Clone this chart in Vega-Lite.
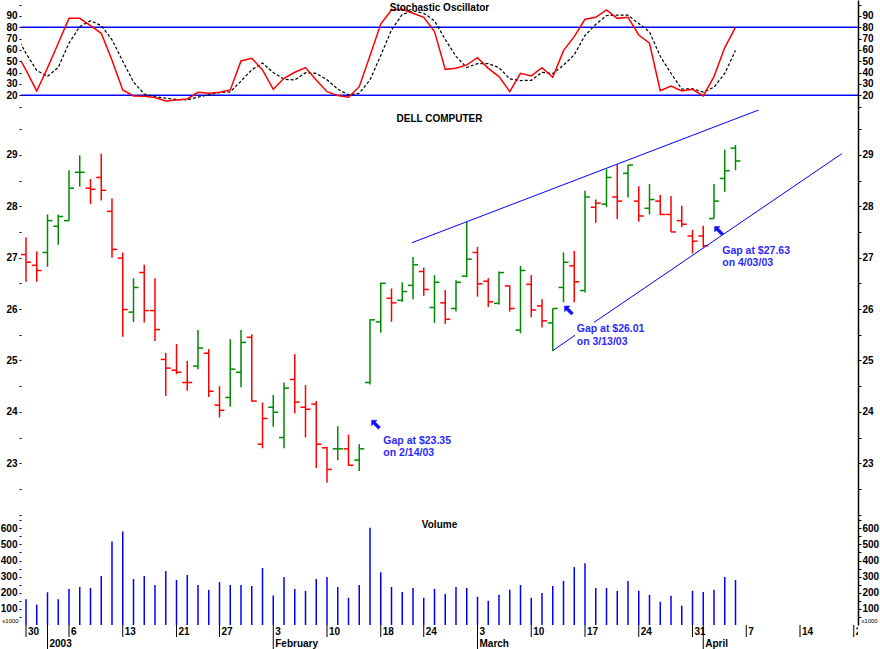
{
  "$schema": "https://vega.github.io/schema/vega-lite/v6.json",
  "background": "white",
  "padding": 0,
  "bounds": "flush",
  "spacing": 0,
  "config": {
    "font": "Liberation Sans",
    "view": {"stroke": null},
    "axis": {"labelFont": "Liberation Sans", "labelFontWeight": "bold", "labelFontSize": 10, "labelColor": "#000", "tickColor": "#000", "domainColor": "#000", "titleFont": "Liberation Sans", "titleColor": "#000"},
    "title": {"font": "Liberation Sans", "fontSize": 10, "fontWeight": "bold", "color": "#000", "anchor": "middle", "frame": "group"}
  },
  "datasets": {
    "ohlc": [
      {"i":0,"o":27.06,"h":27.39,"l":26.53,"c":26.91,"d":"down"},
      {"i":1,"o":26.85,"h":27.12,"l":26.53,"c":26.75,"d":"down"},
      {"i":2,"o":27.10,"h":27.84,"l":26.82,"c":27.72,"d":"up"},
      {"i":3,"o":27.61,"h":27.84,"l":27.25,"c":27.80,"d":"up"},
      {"i":4,"o":27.72,"h":28.70,"l":27.72,"c":28.35,"d":"up"},
      {"i":5,"o":28.66,"h":28.99,"l":28.38,"c":28.66,"d":"up"},
      {"i":6,"o":28.35,"h":28.53,"l":28.04,"c":28.33,"d":"down"},
      {"i":7,"o":28.56,"h":29.02,"l":28.11,"c":28.31,"d":"down"},
      {"i":8,"o":27.90,"h":28.15,"l":27.00,"c":27.16,"d":"down"},
      {"i":9,"o":26.99,"h":27.10,"l":25.46,"c":25.99,"d":"down"},
      {"i":10,"o":25.94,"h":26.60,"l":25.75,"c":26.42,"d":"up"},
      {"i":11,"o":26.71,"h":26.86,"l":25.74,"c":25.97,"d":"down"},
      {"i":12,"o":25.97,"h":26.60,"l":25.38,"c":25.60,"d":"down"},
      {"i":13,"o":25.02,"h":25.15,"l":24.31,"c":24.85,"d":"down"},
      {"i":14,"o":24.81,"h":25.32,"l":24.73,"c":24.77,"d":"down"},
      {"i":15,"o":24.57,"h":24.99,"l":24.41,"c":24.57,"d":"down"},
      {"i":16,"o":24.89,"h":25.59,"l":24.83,"c":25.24,"d":"up"},
      {"i":17,"o":25.14,"h":25.22,"l":24.29,"c":24.40,"d":"down"},
      {"i":18,"o":24.13,"h":24.50,"l":23.89,"c":24.03,"d":"down"},
      {"i":19,"o":24.28,"h":25.41,"l":24.10,"c":24.83,"d":"up"},
      {"i":20,"o":24.77,"h":25.59,"l":24.48,"c":25.35,"d":"up"},
      {"i":21,"o":25.45,"h":25.51,"l":24.20,"c":24.21,"d":"down"},
      {"i":22,"o":23.37,"h":24.18,"l":23.29,"c":23.87,"d":"down"},
      {"i":23,"o":24.09,"h":24.33,"l":23.71,"c":23.99,"d":"up"},
      {"i":24,"o":23.50,"h":24.57,"l":23.29,"c":24.46,"d":"up"},
      {"i":25,"o":24.63,"h":25.12,"l":23.97,"c":24.19,"d":"down"},
      {"i":26,"o":24.09,"h":24.52,"l":23.50,"c":24.05,"d":"down"},
      {"i":27,"o":24.15,"h":24.21,"l":22.91,"c":23.37,"d":"down"},
      {"i":28,"o":23.30,"h":23.32,"l":22.62,"c":22.88,"d":"down"},
      {"i":29,"o":23.28,"h":23.72,"l":23.06,"c":23.28,"d":"up"},
      {"i":30,"o":23.28,"h":23.56,"l":22.95,"c":22.96,"d":"down"},
      {"i":31,"o":23.06,"h":23.37,"l":22.85,"c":23.28,"d":"up"},
      {"i":32,"o":24.57,"h":25.80,"l":24.53,"c":25.79,"d":"up"},
      {"i":33,"o":25.75,"h":26.51,"l":25.54,"c":26.50,"d":"up"},
      {"i":34,"o":26.21,"h":26.40,"l":25.75,"c":26.12,"d":"down"},
      {"i":35,"o":26.17,"h":26.52,"l":26.14,"c":26.34,"d":"up"},
      {"i":36,"o":26.46,"h":27.01,"l":26.19,"c":26.86,"d":"up"},
      {"i":37,"o":26.73,"h":26.81,"l":26.26,"c":26.38,"d":"down"},
      {"i":38,"o":26.03,"h":26.66,"l":25.73,"c":26.52,"d":"up"},
      {"i":39,"o":26.12,"h":26.37,"l":25.71,"c":25.80,"d":"down"},
      {"i":40,"o":26.01,"h":26.56,"l":25.95,"c":26.52,"d":"up"},
      {"i":41,"o":26.64,"h":27.70,"l":26.62,"c":26.97,"d":"up"},
      {"i":42,"o":27.10,"h":27.21,"l":26.24,"c":26.49,"d":"down"},
      {"i":43,"o":26.54,"h":26.60,"l":26.04,"c":26.14,"d":"down"},
      {"i":44,"o":26.11,"h":26.73,"l":26.09,"c":26.71,"d":"up"},
      {"i":45,"o":26.45,"h":26.46,"l":25.95,"c":26.01,"d":"down"},
      {"i":46,"o":25.59,"h":26.84,"l":25.53,"c":26.75,"d":"up"},
      {"i":47,"o":26.48,"h":26.66,"l":25.84,"c":25.98,"d":"down"},
      {"i":48,"o":26.06,"h":26.19,"l":25.64,"c":25.77,"d":"down"},
      {"i":49,"o":25.73,"h":26.01,"l":25.19,"c":26.01,"d":"up"},
      {"i":50,"o":26.42,"h":27.10,"l":26.13,"c":26.91,"d":"up"},
      {"i":51,"o":26.84,"h":27.13,"l":26.13,"c":26.53,"d":"down"},
      {"i":52,"o":26.36,"h":28.30,"l":26.32,"c":28.18,"d":"up"},
      {"i":53,"o":27.98,"h":28.13,"l":27.68,"c":28.06,"d":"down"},
      {"i":54,"o":28.04,"h":28.72,"l":27.98,"c":28.56,"d":"up"},
      {"i":55,"o":28.18,"h":28.82,"l":27.75,"c":28.10,"d":"down"},
      {"i":56,"o":28.64,"h":28.80,"l":28.17,"c":28.80,"d":"up"},
      {"i":57,"o":28.10,"h":28.39,"l":27.70,"c":27.81,"d":"down"},
      {"i":58,"o":27.96,"h":28.43,"l":27.84,"c":28.13,"d":"up"},
      {"i":59,"o":28.10,"h":28.22,"l":27.83,"c":27.84,"d":"down"},
      {"i":60,"o":27.84,"h":28.20,"l":27.50,"c":27.50,"d":"down"},
      {"i":61,"o":27.72,"h":28.01,"l":27.59,"c":27.65,"d":"down"},
      {"i":62,"o":27.42,"h":27.54,"l":27.08,"c":27.32,"d":"down"},
      {"i":63,"o":27.42,"h":27.62,"l":27.20,"c":27.23,"d":"down"},
      {"i":64,"o":27.76,"h":28.43,"l":27.76,"c":28.10,"d":"up"},
      {"i":65,"o":28.54,"h":29.10,"l":28.28,"c":28.69,"d":"up"},
      {"i":66,"o":29.13,"h":29.19,"l":28.70,"c":28.88,"d":"up"}
    ],
    "stoch": [
      {"i":-1,"k":59.6,"dd":74.5},{"i":0,"k":42.2,"dd":57.0},{"i":1,"k":23.8,"dd":41.9},{"i":2,"k":44.2,"dd":36.7},
      {"i":3,"k":65.9,"dd":44.6},{"i":4,"k":87.9,"dd":66.0},{"i":5,"k":87.9,"dd":80.6},{"i":6,"k":81.5,"dd":85.8},
      {"i":7,"k":74.7,"dd":81.4},{"i":8,"k":50.9,"dd":69.0},{"i":9,"k":24.7,"dd":50.1},{"i":10,"k":19.4,"dd":31.7},
      {"i":11,"k":19.1,"dd":21.1},{"i":12,"k":18.0,"dd":18.8},{"i":13,"k":15.0,"dd":17.4},{"i":14,"k":15.9,"dd":16.3},
      {"i":15,"k":16.8,"dd":15.9},{"i":16,"k":22.6,"dd":18.4},{"i":17,"k":21.8,"dd":20.4},{"i":18,"k":22.6,"dd":22.3},
      {"i":19,"k":24.7,"dd":23.0},{"i":20,"k":50.3,"dd":32.5},{"i":21,"k":52.6,"dd":42.5},{"i":22,"k":42.4,"dd":48.4},
      {"i":23,"k":25.3,"dd":40.1},{"i":24,"k":35.0,"dd":34.2},{"i":25,"k":40.3,"dd":33.5},{"i":26,"k":44.4,"dd":39.9},
      {"i":27,"k":33.4,"dd":39.4},{"i":28,"k":23.2,"dd":33.7},{"i":29,"k":19.7,"dd":25.4},{"i":30,"k":18.2,"dd":20.4},
      {"i":31,"k":27.6,"dd":21.8},{"i":32,"k":54.9,"dd":33.6},{"i":33,"k":82.9,"dd":55.1},{"i":34,"k":95.3,"dd":77.7},
      {"i":35,"k":95.9,"dd":91.4},{"i":36,"k":92.4,"dd":94.5},{"i":37,"k":88.8,"dd":92.4},{"i":38,"k":76.2,"dd":85.8},
      {"i":39,"k":42.9,"dd":69.3},{"i":40,"k":43.8,"dd":54.3},{"i":41,"k":46.8,"dd":44.5},{"i":42,"k":53.2,"dd":47.9},
      {"i":43,"k":43.8,"dd":47.9},{"i":44,"k":36.5,"dd":44.5},{"i":45,"k":23.2,"dd":34.5},{"i":46,"k":39.4,"dd":33.0},
      {"i":47,"k":37.1,"dd":33.2},{"i":48,"k":44.4,"dd":40.3},{"i":49,"k":35.9,"dd":39.1},{"i":50,"k":59.4,"dd":46.6},
      {"i":51,"k":71.8,"dd":55.7},{"i":52,"k":87.1,"dd":72.8},{"i":53,"k":88.8,"dd":82.6},{"i":54,"k":95.3,"dd":90.4},
      {"i":55,"k":87.9,"dd":90.7},{"i":56,"k":88.8,"dd":90.7},{"i":57,"k":73.2,"dd":83.3},{"i":58,"k":65.9,"dd":76.0},
      {"i":59,"k":24.1,"dd":54.4},{"i":60,"k":28.2,"dd":39.4},{"i":61,"k":23.8,"dd":25.4},{"i":62,"k":25.3,"dd":25.8},
      {"i":63,"k":19.4,"dd":22.8},{"i":64,"k":36.5,"dd":27.1},{"i":65,"k":62.1,"dd":39.3},{"i":66,"k":80.0,"dd":59.5}
    ],
    "vol": [
      {"i":0,"v":160},{"i":1,"v":126},{"i":2,"v":203},{"i":3,"v":160},{"i":4,"v":224},{"i":5,"v":236},{"i":6,"v":230},
      {"i":7,"v":304},{"i":8,"v":518},{"i":9,"v":580},{"i":10,"v":285},{"i":11,"v":304},{"i":12,"v":248},{"i":13,"v":334},
      {"i":14,"v":279},{"i":15,"v":310},{"i":16,"v":248},{"i":17,"v":218},{"i":18,"v":266},{"i":19,"v":248},{"i":20,"v":248},
      {"i":21,"v":242},{"i":22,"v":353},{"i":23,"v":183},{"i":24,"v":298},{"i":25,"v":224},{"i":26,"v":212},{"i":27,"v":285},
      {"i":28,"v":298},{"i":29,"v":236},{"i":30,"v":169},{"i":31,"v":248},{"i":32,"v":604},{"i":33,"v":327},{"i":34,"v":236},
      {"i":35,"v":205},{"i":36,"v":230},{"i":37,"v":169},{"i":38,"v":224},{"i":39,"v":193},{"i":40,"v":236},{"i":41,"v":230},
      {"i":42,"v":175},{"i":43,"v":150},{"i":44,"v":187},{"i":45,"v":218},{"i":46,"v":248},{"i":47,"v":169},{"i":48,"v":199},
      {"i":49,"v":242},{"i":50,"v":273},{"i":51,"v":359},{"i":52,"v":383},{"i":53,"v":230},{"i":54,"v":230},{"i":55,"v":212},
      {"i":56,"v":273},{"i":57,"v":212},{"i":58,"v":187},{"i":59,"v":144},{"i":60,"v":181},{"i":61,"v":120},{"i":62,"v":212},
      {"i":63,"v":205},{"i":64,"v":218},{"i":65,"v":298},{"i":66,"v":279}
    ],
    "trend": [
      {"seg":"u","i":35.9,"p":27.29},{"seg":"u","i":68.5,"p":29.90},
      {"seg":"l1","i":49,"p":25.19},{"seg":"l1","i":51.07,"p":25.49},
      {"seg":"l2","i":52.84,"p":25.74},{"seg":"l2","i":75.88,"p":29.02}
    ],
    "arrows": [
      {"i":32.56,"p":23.75},{"i":50.51,"p":25.97},{"i":64.47,"p":27.52}
    ],
    "notes": [
      {"i":33.24,"p":23.44,"t":"Gap at $23.35"},{"i":33.24,"p":23.20,"t":"on 2/14/03"},
      {"i":51.23,"p":25.62,"t":"Gap at $26.01"},{"i":51.23,"p":25.36,"t":"on 3/13/03"},
      {"i":64.77,"p":27.13,"t":"Gap at $27.63"},{"i":64.77,"p":26.90,"t":"on 4/03/03"}
    ],
    "levels": [{"lvl":20},{"lvl":80}],
    "weeks": [
      {"i":0,"t":"30"},{"i":2,"t":""},{"i":4,"t":"6"},{"i":9,"t":"13"},{"i":14,"t":"21"},{"i":18,"t":"27"},
      {"i":23,"t":"3"},{"i":28,"t":"10"},{"i":33,"t":"18"},{"i":37,"t":"24"},{"i":42,"t":"3"},{"i":47,"t":"10"},
      {"i":52,"t":"17"},{"i":57,"t":"24"},{"i":62,"t":"31"},{"i":63,"t":""},{"i":67,"t":"7"},{"i":72,"t":"14"},{"i":77,"t":"21"}
    ],
    "months": [
      {"i":2,"t":"2003"},{"i":23,"t":"February"},{"i":42,"t":"March"},{"i":63,"t":"April"}
    ]
  },
  "vconcat": [
    {
      "width": 837,
      "height": 110,
      "title": {"text": "Stochastic Oscillator", "offset": -13},
      "resolve": {"axis": {"y": "independent"}},
      "layer": [
        {
          "data": {"name": "levels"},
          "mark": {"type": "rule", "color": "#0000ff", "strokeWidth": 1.5},
          "encoding": {
            "y": {"field": "lvl", "type": "quantitative", "scale": {"domain": [7, 104.1], "nice": false, "zero": false}, "axis": null}
          }
        },
        {
          "data": {"name": "stoch"},
          "mark": {"type": "line", "color": "#000000", "strokeDash": [3, 2], "strokeWidth": 1.2, "clip": true},
          "encoding": {
            "x": {"field": "i", "type": "quantitative", "scale": {"domain": [-0.465, 77.395], "nice": false, "zero": false},
                  "axis": {"orient": "bottom", "values": [0,4,9,14,18,23,28,33,37,42,47,52,57,62,67,72,77], "grid": true, "gridColor": "#b8b8b8", "gridDash": [3,3], "labels": false, "ticks": false, "domain": true, "domainWidth": 1.5, "title": null}},
            "y": {"field": "dd", "type": "quantitative", "scale": {"domain": [7, 104.1], "nice": false, "zero": false},
                  "axis": {"orient": "right", "values": [10,20,30,40,50,60,70,80,90,100], "labelExpr": "datum.value >= 20 && datum.value <= 90 ? datum.label : ''", "tickSize": 3, "labelPadding": 1, "domain": true, "domainWidth": 1.5, "grid": false, "title": null}}
          }
        },
        {
          "data": {"name": "stoch"},
          "mark": {"type": "line", "color": "#ff0000", "strokeWidth": 1.5, "clip": true},
          "encoding": {
            "x": {"field": "i", "type": "quantitative", "scale": {"domain": [-0.465, 77.395], "nice": false, "zero": false}, "axis": null},
            "y": {"field": "k", "type": "quantitative", "scale": {"domain": [7, 104.1], "nice": false, "zero": false},
                  "axis": {"orient": "left", "values": [10,20,30,40,50,60,70,80,90,100], "labelExpr": "datum.value >= 20 && datum.value <= 90 ? datum.label : ''", "tickSize": 2, "labelPadding": 2, "domain": false, "grid": false, "title": null}}
          }
        }
      ]
    },
    {
      "width": 837,
      "height": 407,
      "title": {"text": "DELL COMPUTER", "offset": -14},
      "resolve": {"axis": {"y": "independent"}},
      "layer": [
        {
          "data": {"name": "ohlc"},
          "mark": {"type": "rule", "strokeWidth": 1.5},
          "encoding": {
            "x": {"field": "i", "type": "quantitative", "scale": {"domain": [-0.465, 77.395], "nice": false, "zero": false},
                  "axis": {"orient": "bottom", "values": [0,4,9,14,18,23,28,33,37,42,47,52,57,62,67,72,77], "grid": true, "gridColor": "#b8b8b8", "gridDash": [3,3], "labels": false, "ticks": false, "domain": true, "domainWidth": 1.5, "title": null}},
            "y": {"field": "l", "type": "quantitative", "scale": {"domain": [21.954, 29.872], "nice": false, "zero": false},
                  "axis": {"orient": "left", "values": [22,22.5,23,23.5,24,24.5,25,25.5,26,26.5,27,27.5,28,28.5,29,29.5], "labelExpr": "datum.value % 1 == 0 && datum.value >= 23 ? format(datum.value, 'd') : ''", "tickSize": 2, "labelPadding": 2, "domain": false, "grid": false, "title": null}},
            "y2": {"field": "h"},
            "color": {"field": "d", "type": "nominal", "scale": {"domain": ["up", "down"], "range": ["#008a00", "#ff0000"]}, "legend": null}
          }
        },
        {
          "data": {"name": "ohlc"},
          "mark": {"type": "tick", "orient": "horizontal", "size": 5, "thickness": 1.5, "xOffset": -2.5, "opacity": 1},
          "encoding": {
            "x": {"field": "i", "type": "quantitative", "scale": {"domain": [-0.465, 77.395], "nice": false, "zero": false}, "axis": null},
            "y": {"field": "o", "type": "quantitative", "scale": {"domain": [21.954, 29.872], "nice": false, "zero": false},
                  "axis": {"orient": "right", "values": [22,22.5,23,23.5,24,24.5,25,25.5,26,26.5,27,27.5,28,28.5,29,29.5], "labelExpr": "datum.value % 1 == 0 && datum.value >= 23 ? format(datum.value, 'd') : ''", "tickSize": 3, "labelPadding": 1, "domain": true, "domainWidth": 1.5, "grid": false, "title": null}},
            "color": {"field": "d", "type": "nominal", "scale": {"domain": ["up", "down"], "range": ["#008a00", "#ff0000"]}, "legend": null}
          }
        },
        {
          "data": {"name": "ohlc"},
          "mark": {"type": "tick", "orient": "horizontal", "size": 5, "thickness": 1.5, "xOffset": 2.5, "opacity": 1},
          "encoding": {
            "x": {"field": "i", "type": "quantitative", "scale": {"domain": [-0.465, 77.395], "nice": false, "zero": false}, "axis": null},
            "y": {"field": "c", "type": "quantitative", "scale": {"domain": [21.954, 29.872], "nice": false, "zero": false}, "axis": null},
            "color": {"field": "d", "type": "nominal", "scale": {"domain": ["up", "down"], "range": ["#008a00", "#ff0000"]}, "legend": null}
          }
        },
        {
          "data": {"name": "trend"},
          "mark": {"type": "line", "color": "#0000ff", "strokeWidth": 1, "clip": true},
          "encoding": {
            "x": {"field": "i", "type": "quantitative", "scale": {"domain": [-0.465, 77.395], "nice": false, "zero": false}, "axis": null},
            "y": {"field": "p", "type": "quantitative", "scale": {"domain": [21.954, 29.872], "nice": false, "zero": false}, "axis": null},
            "detail": {"field": "seg", "type": "nominal"}
          }
        },
        {
          "data": {"name": "arrows"},
          "mark": {"type": "point", "shape": "M -1 -1 L 0.24 -1 L -0.14 -0.62 L 1 0.52 L 0.52 1 L -0.62 -0.14 L -1 0.24 Z", "filled": true, "fill": "#1010ff", "stroke": "#1010ff", "strokeWidth": 0.5, "size": 80, "opacity": 1},
          "encoding": {
            "x": {"field": "i", "type": "quantitative", "scale": {"domain": [-0.465, 77.395], "nice": false, "zero": false}, "axis": null},
            "y": {"field": "p", "type": "quantitative", "scale": {"domain": [21.954, 29.872], "nice": false, "zero": false}, "axis": null}
          }
        },
        {
          "data": {"name": "notes"},
          "mark": {"type": "text", "align": "left", "baseline": "middle", "fontSize": 10.5, "fontWeight": "bold", "color": "#2a2aff"},
          "encoding": {
            "x": {"field": "i", "type": "quantitative", "scale": {"domain": [-0.465, 77.395], "nice": false, "zero": false}, "axis": null},
            "y": {"field": "p", "type": "quantitative", "scale": {"domain": [21.954, 29.872], "nice": false, "zero": false}, "axis": null},
            "text": {"field": "t"}
          }
        }
      ]
    },
    {
      "width": 837,
      "height": 108,
      "title": {"text": "Volume", "offset": -13},
      "resolve": {"axis": {"y": "independent"}},
      "layer": [
        {
          "data": {"name": "vol"},
          "mark": {"type": "rule", "color": "#0000ff", "strokeWidth": 1.5},
          "encoding": {
            "x": {"field": "i", "type": "quantitative", "scale": {"domain": [-0.465, 77.395], "nice": false, "zero": false},
                  "axis": {"orient": "bottom", "values": [0,4,9,14,18,23,28,33,37,42,47,52,57,62,67,72,77], "grid": true, "gridColor": "#b8b8b8", "gridDash": [3,3], "labels": false, "ticks": false, "domain": true, "domainWidth": 1.5, "title": null}},
            "y": {"field": "v", "type": "quantitative", "scale": {"domain": [0, 670], "nice": false, "zero": false},
                  "axis": {"orient": "left", "values": [50,100,150,200,250,300,350,400,450,500,550,600,650], "labelExpr": "datum.value % 100 == 0 ? datum.label : ''", "tickSize": 2, "labelPadding": 2, "domain": false, "grid": false,
                           "title": "x1000", "titleAngle": 0, "titleFontSize": 6, "titleFontWeight": "normal", "titleX": -11, "titleY": 103, "titleAlign": "center", "titleBaseline": "middle"}},
            "y2": {"datum": 0}
          }
        },
        {
          "data": {"name": "vol"},
          "mark": {"type": "rule", "color": "#0000ff", "strokeWidth": 1.5, "opacity": 0},
          "encoding": {
            "x": {"field": "i", "type": "quantitative", "scale": {"domain": [-0.465, 77.395], "nice": false, "zero": false}, "axis": null},
            "y": {"field": "v", "type": "quantitative", "scale": {"domain": [0, 670], "nice": false, "zero": false},
                  "axis": {"orient": "right", "values": [50,100,150,200,250,300,350,400,450,500,550,600,650], "labelExpr": "datum.value % 100 == 0 ? datum.label : ''", "tickSize": 3, "labelPadding": 1, "domain": true, "domainWidth": 1.5, "grid": false,
                           "title": "x1000", "titleAngle": 0, "titleFontSize": 6, "titleFontWeight": "normal", "titleX": 11, "titleY": 103, "titleAlign": "center", "titleBaseline": "middle"}},
            "y2": {"datum": 0}
          }
        }
      ]
    },
    {
      "width": 837,
      "height": 12,
      "layer": [
        {
          "data": {"name": "weeks"},
          "mark": {"type": "rule", "color": "#000000", "strokeWidth": 1},
          "encoding": {
            "x": {"field": "i", "type": "quantitative", "scale": {"domain": [-0.465, 77.395], "nice": false, "zero": false},
                  "axis": {"orient": "bottom", "grid": false, "ticks": false, "labels": false, "domain": true, "domainWidth": 1.5, "title": null}}
          }
        },
        {
          "data": {"name": "weeks"},
          "mark": {"type": "text", "align": "left", "baseline": "middle", "dx": 2, "dy": 1, "fontSize": 10, "fontWeight": "bold", "color": "#000", "clip": true},
          "encoding": {
            "x": {"field": "i", "type": "quantitative", "scale": {"domain": [-0.465, 77.395], "nice": false, "zero": false}, "axis": null},
            "text": {"field": "t"}
          }
        }
      ]
    },
    {
      "width": 837,
      "height": 12,
      "layer": [
        {
          "data": {"name": "months"},
          "mark": {"type": "rule", "color": "#000000", "strokeWidth": 1},
          "encoding": {
            "x": {"field": "i", "type": "quantitative", "scale": {"domain": [-0.465, 77.395], "nice": false, "zero": false}, "axis": null}
          }
        },
        {
          "data": {"name": "months"},
          "mark": {"type": "text", "align": "left", "baseline": "middle", "dx": 2, "dy": 1, "fontSize": 10, "fontWeight": "bold", "color": "#000"},
          "encoding": {
            "x": {"field": "i", "type": "quantitative", "scale": {"domain": [-0.465, 77.395], "nice": false, "zero": false}, "axis": null},
            "text": {"field": "t"}
          }
        }
      ]
    }
  ]
}
